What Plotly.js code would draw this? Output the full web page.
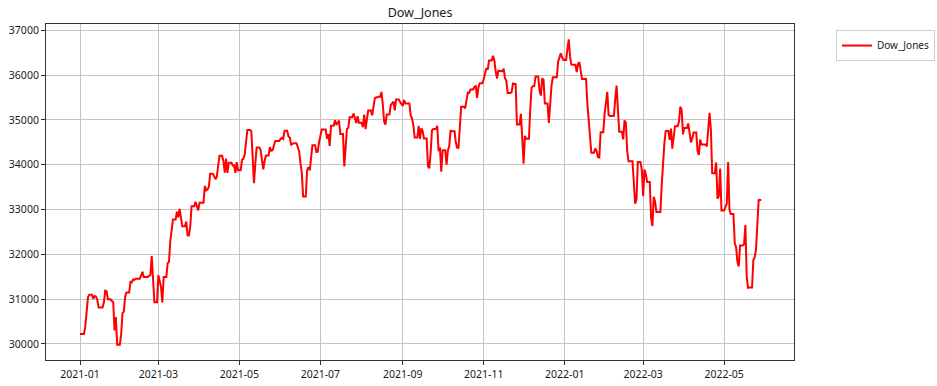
<!DOCTYPE html>
<html>
<head>
<meta charset="utf-8">
<script src="https://cdn.plot.ly/plotly-3.0.1.min.js"></script>
<style>html,body{margin:0;padding:0;background:#fff;}#chart{width:937px;height:386px;}</style>
</head>
<body>
<div id="chart"></div>
<script>
// Dow_Jones, one value per calendar day (non-trading days carry the last close), grouped by month
const months = ['2021-01','2021-02','2021-03','2021-04','2021-05','2021-06','2021-07','2021-08','2021-09','2021-10','2021-11','2021-12','2022-01','2022-02','2022-03','2022-04','2022-05'];

const closes = [
  [30224,30224,30224,30224,30392,30829,31041,31098,31098,31098,31009,31069,31060,30992,30814,30814,30814,30814,30931,31188,31176,30997,30997,30997,30960,30937,30303,30603,29983,29983,29983],
  [30212,30687,30724,31056,31148,31148,31148,31386,31376,31438,31431,31458,31458,31458,31458,31523,31613,31493,31494,31494,31494,31522,31537,31962,31402,30932,30932,30932],
  [31536,31392,31270,30924,31496,31496,31496,31802,31833,32297,32486,32779,32779,32779,32953,32826,33015,32862,32628,32628,32628,32731,32423,32420,32619,33073,33073,33073,33171,33067,32982],
  [33153,33153,33153,33153,33527,33430,33446,33504,33801,33801,33801,33745,33677,33731,34036,34201,34201,34201,34078,33821,34137,33816,34043,34043,34043,33982,33985,33820,34060,33875],
  [33875,33875,34113,34133,34230,34549,34778,34778,34778,34743,34269,33588,34021,34382,34382,34382,34328,34061,33896,34084,34208,34208,34208,34394,34312,34323,34465,34529,34529,34529,34529],
  [34575,34600,34577,34756,34756,34756,34630,34600,34447,34466,34480,34480,34480,34394,34299,34034,33823,33290,33290,33290,33877,33946,33874,34197,34434,34434,34434,34283,34292,34503],
  [34634,34786,34786,34786,34786,34578,34682,34422,34870,34870,34870,34996,34889,34933,34987,34688,34688,34688,33962,34512,34798,34823,35062,35062,35062,35144,35059,34931,35085,34935,34935],
  [34935,34838,35116,34793,35064,35209,35209,35209,35102,35265,35485,35500,35515,35515,35515,35625,35343,34961,34894,35120,35120,35120,35336,35366,35406,35213,35456,35456,35456,35400,35361],
  [35313,35444,35369,35369,35369,35369,35100,35031,34879,34608,34608,34608,34870,34578,34814,34751,34585,34585,34585,33970,33920,34258,34765,34798,34798,34798,34869,34300,34391,33844],
  [34326,34326,34326,34003,34315,34417,34755,34746,34746,34746,34496,34378,34378,34913,35295,35295,35295,35259,35457,35609,35603,35677,35677,35677,35741,35757,35491,35730,35820,35820,35820],
  [35914,36053,36158,36124,36328,36328,36328,36432,36320,36080,35921,36100,36100,36100,36087,36142,35931,35871,35602,35602,35602,35619,35814,35804,35804,34899,34899,34899,35136,34484],
  [34022,34640,34580,34580,34580,35227,35719,35754,35755,35971,35971,35971,35651,35544,35927,35898,35365,35365,35365,34932,35493,35754,35951,35951,35951,35951,36302,36398,36489,36398,36338],
  [36338,36338,36585,36800,36407,36236,36232,36232,36232,36069,36252,36290,36114,35912,35912,35912,35912,35368,35029,34715,34265,34265,34265,34365,34298,34168,34161,34725,34725,34725,35132],
  [35405,35629,35111,35090,35090,35090,35091,35463,35768,35242,34738,34738,34738,34566,34989,34934,34312,34079,34079,34079,34079,33597,33132,33224,34059,34059,34059,33893],
  [33295,33891,33795,33615,33615,33615,32817,32633,33286,33174,32944,32944,32944,32945,33544,34063,34481,34755,34755,34755,34553,34807,34359,34708,34861,34861,34861,34956,35294,35229,34678],
  [34818,34818,34818,34922,34641,34497,34584,34721,34721,34721,34308,34220,34565,34451,34451,34451,34451,34412,34911,35161,34793,33811,33811,33811,34049,33240,33302,33916,32977,32977],
  [32977,33062,33129,34061,32998,32899,32899,32899,32246,32161,31834,31730,32197,32197,32197,32223,32655,31490,31253,31262,31262,31262,31880,31929,32120,32637,33213,33213,33213]
];

const seriesName = 'Dow_Jones';
const yTicks = [30000,31000,32000,33000,34000,35000,36000,37000];

const xs = [], ys = [];
months.forEach((m, i) => {
  closes[i].forEach((v, j) => {
    xs.push(m + '-' + String(j + 1).padStart(2, '0'));
    ys.push(v);
  });
});

const fam = '"Noto Sans", "Open Sans", sans-serif';
const font = {family: fam, size: 10.5, color: '#1a1a1a'};

const trace = {
  x: xs, y: ys, type: 'scatter', mode: 'lines', name: seriesName,
  line: {color: '#ff0000', width: 2}
};

const layout = {
  width: 937, height: 386,
  margin: {l: 46, r: 143, t: 24, b: 26, pad: 0, autoexpand: false},
  paper_bgcolor: '#ffffff', plot_bgcolor: '#ffffff',
  font: font,
  title: {text: seriesName, x: 0.4483, xanchor: 'center', y: 0.968, yanchor: 'middle',
          font: {family: fam, size: 12.5, color: '#1a1a1a'}},
  showlegend: true,
  legend: {x: 1.0561, xanchor: 'left', y: 0.982, yanchor: 'top', itemwidth: 30,
           bordercolor: '#d0d0d0', borderwidth: 1, bgcolor: '#ffffff',
           font: {family: fam, size: 10, color: '#1a1a1a'}},
  xaxis: {
    type: 'date',
    range: ['2020-12-06 09:36', '2022-06-22 14:24'],
    tick0: '2021-01-01', dtick: 'M2', tickformat: '%Y-%m',
    showgrid: true, gridcolor: '#c4c4c4', gridwidth: 1,
    showline: true, linecolor: '#333333', linewidth: 1, mirror: true,
    ticks: 'outside', ticklen: 4, tickcolor: '#333333', tickwidth: 1,
    zeroline: false, tickfont: font
  },
  yaxis: {
    range: [29642, 37141],
    tickvals: yTicks, ticktext: yTicks.map(String),
    showgrid: true, gridcolor: '#c4c4c4', gridwidth: 1,
    showline: true, linecolor: '#333333', linewidth: 1, mirror: true,
    ticks: 'outside', ticklen: 4, tickcolor: '#333333', tickwidth: 1,
    zeroline: false, tickfont: font
  }
};

Plotly.newPlot('chart', [trace], layout, {displayModeBar: false, staticPlot: true});
</script>
</body>
</html>
